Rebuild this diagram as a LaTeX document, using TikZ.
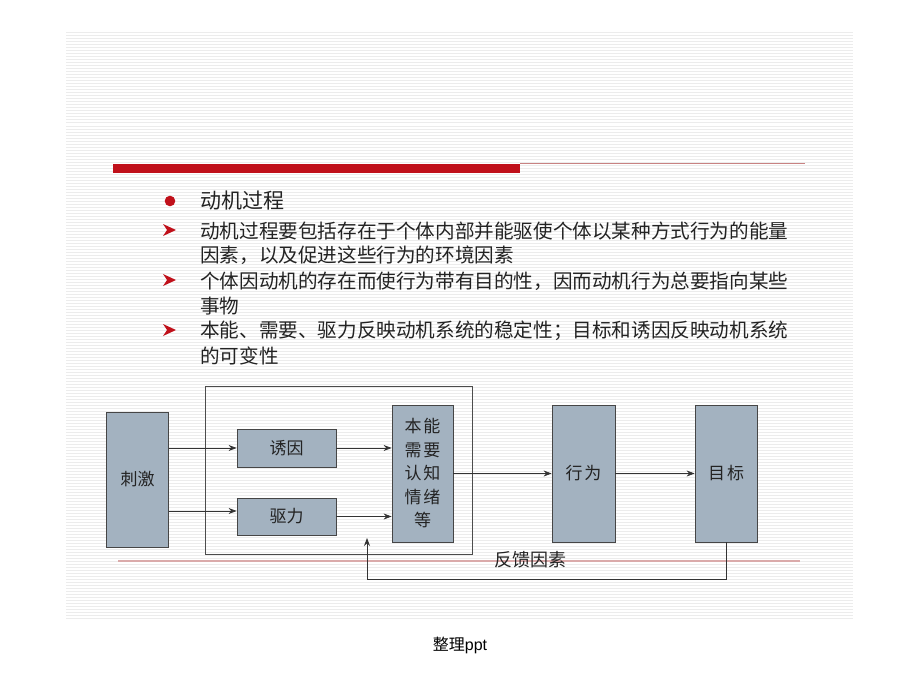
\documentclass[tikz,border=0pt]{standalone}
\usepackage{fontspec}
\setmainfont{Liberation Sans}
\newfontfamily\cjk{Noto Sans CJK SC}
\usetikzlibrary{arrows.meta}
\definecolor{boxfill}{RGB}{163,178,192}
\definecolor{boxline}{RGB}{70,70,70}
\definecolor{barred}{RGB}{192,16,26}
\definecolor{thinred}{RGB}{200,130,130}
\definecolor{pinkline}{RGB}{218,170,170}
\definecolor{stripe}{RGB}{236,236,236}
\definecolor{txt}{RGB}{35,35,35}
\begin{document}
\begin{tikzpicture}[x=1pt,y=-1pt,
  stripeline/.style={draw=stripe,line width=1pt},
  blk/.style={draw=boxline,fill=boxfill,line width=0.8pt,inner sep=0pt,
    font=\cjk\fontsize{17}{23.5}\selectfont,text=txt,align=center},
  arr/.style={draw=black!80,line width=0.8pt,-{Stealth[length=8pt,width=6pt]}},
  bodytext/.style={anchor=west,inner sep=0pt,font=\cjk\fontsize{19.6}{24}\selectfont,text=txt},
  arrowbullet/.style={fill=barred}
]
\path[use as bounding box] (0,0) rectangle (920,690);
\fill[white] (0,0) rectangle (920,690);
% striped slide background
\foreach \yy in {33,36,...,619} {\draw[stripeline] (66,\yy) -- (853,\yy);}
% title bar
\fill[barred] (113,164) rectangle (520,173);
\draw[thinred,line width=1pt] (520,163.5) -- (805,163.5);
% bullets
\fill[barred] (170,201) circle (5.3);
\node[bodytext,font=\cjk\fontsize{21}{24}\selectfont] (t0) at (200,201) {动机过程};
\foreach \yb in {230,280,330} {\fill[arrowbullet] (163,\yb-6) -- (176,\yb) -- (163,\yb+6) -- (167,\yb) -- cycle;}
\node[bodytext] (t1a) at (200,231) {动机过程要包括存在于个体内部并能驱使个体以某种方式行为的能量};
\node[bodytext] (t1b) at (200,255) {因素，以及促进这些行为的环境因素};
\node[bodytext] (t2a) at (200,281) {个体因动机的存在而使行为带有目的性，因而动机行为总要指向某些};
\node[bodytext] (t2b) at (200,306) {事物};
\node[bodytext] (t3a) at (200,331) {本能、需要、驱力反映动机系统的稳定性；目标和诱因反映动机系统};
\node[bodytext] (t3b) at (200,356) {的可变性};
% bottom decorative line
\draw[pinkline,line width=2.2pt] (118,561) -- (800,561);
% outer frame
\draw[black!70,line width=0.8pt] (205,386) rectangle (472,554);
% boxes
\node[blk,minimum width=62pt,minimum height=135pt] (ci) at (137.5,479.5) {刺激};
\node[blk,minimum width=99pt,minimum height=38pt] (yy) at (286.5,448) {诱因};
\node[blk,minimum width=99pt,minimum height=37pt] (ql) at (286.5,516.5) {驱力};
\node[blk,minimum width=61pt,minimum height=137pt] (bn) at (422.5,473.5) {本\hspace{2pt}能\\需\hspace{2pt}要\\认\hspace{2pt}知\\情\hspace{2pt}绪\\等};
\node[blk,minimum width=63pt,minimum height=137pt] (xw) at (583.5,473.5) {行\hspace{2pt}为};
\node[blk,minimum width=62pt,minimum height=137pt] (mb) at (726,473.5) {目\hspace{2pt}标};
% connectors
\draw[arr] (ci.east |- yy.west) -- (yy.west);
\draw[arr] (ci.east |- 0,511) -- (ql.west |- 0,511);
\draw[arr] (yy.east) -- (bn.west |- yy.east);
\draw[arr] (ql.east) -- (bn.west |- ql.east);
\draw[arr] (bn.east) -- (xw.west);
\draw[arr] (xw.east) -- (mb.west);
\coordinate (fb) at (367,538);
\draw[arr] (mb.south) -- (mb.south |- 0,579) -| (fb);
\node[font=\cjk\fontsize{18}{20}\selectfont,text=txt,inner sep=0pt] (fbl) at (530.5,560) {反馈因素};
% footer
\node[inner sep=0pt,text=black] (ft) at (460,645) {\cjk\fontsize{16}{18}\selectfont 整理\fontspec{Liberation Sans}ppt};
\end{tikzpicture}
\end{document}
